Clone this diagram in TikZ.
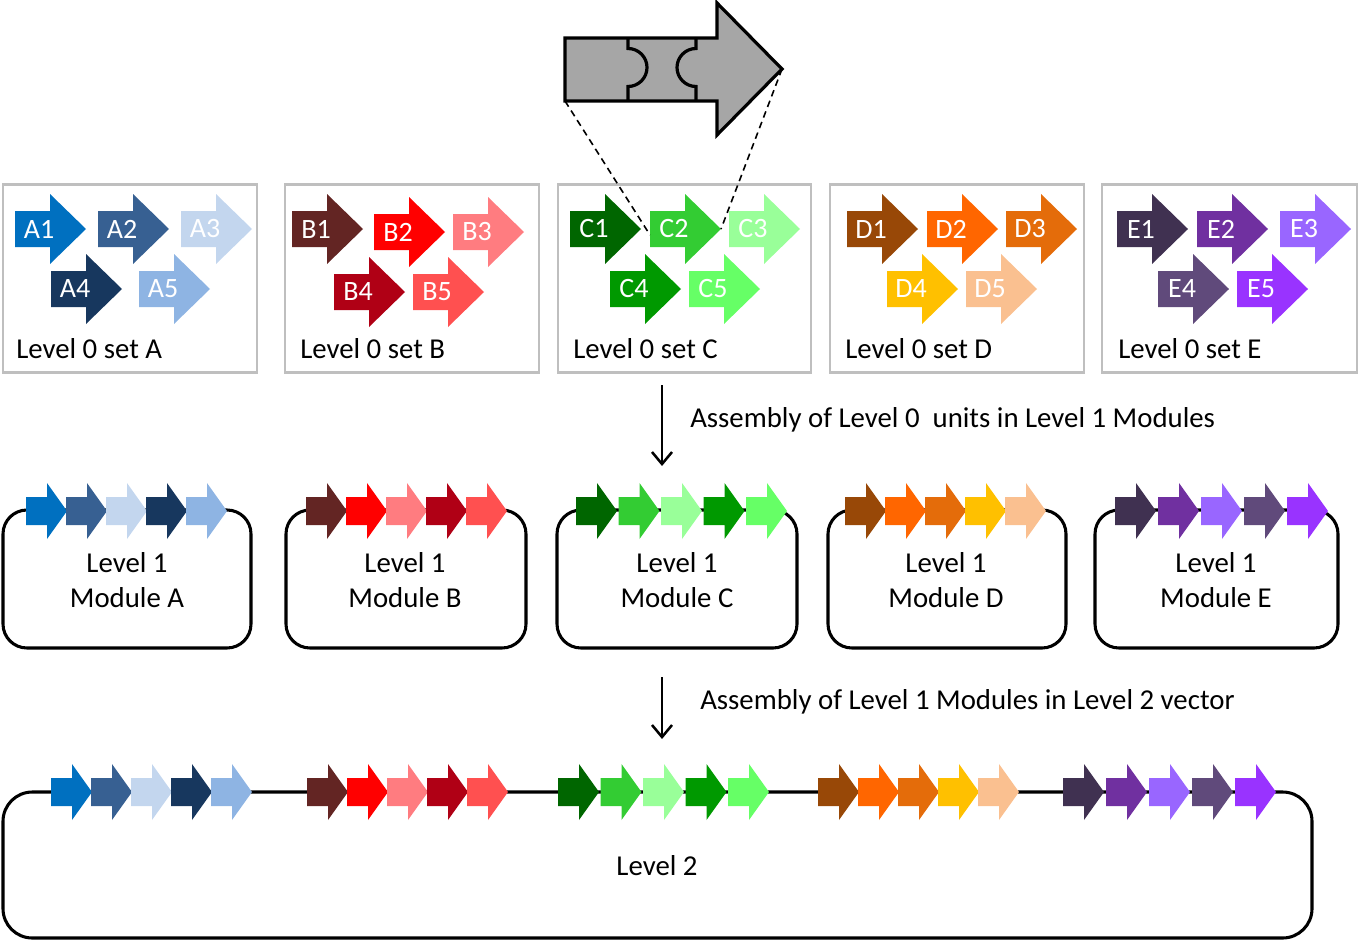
\documentclass[tikz,border=0pt]{standalone}
\usepackage{fontspec}
\setmainfont{Carlito}
\usetikzlibrary{arrows.meta}

% colours of the units
\definecolor{unitA1}{HTML}{0070C0}
\definecolor{unitA2}{HTML}{376092}
\definecolor{unitA3}{HTML}{C3D6EE}
\definecolor{unitA4}{HTML}{17375E}
\definecolor{unitA5}{HTML}{8EB4E3}
\definecolor{unitB1}{HTML}{632523}
\definecolor{unitB2}{HTML}{FF0000}
\definecolor{unitB3}{HTML}{FF7C80}
\definecolor{unitB4}{HTML}{B00015}
\definecolor{unitB5}{HTML}{FF5050}
\definecolor{unitC1}{HTML}{006600}
\definecolor{unitC2}{HTML}{33CC33}
\definecolor{unitC3}{HTML}{99FF99}
\definecolor{unitC4}{HTML}{009900}
\definecolor{unitC5}{HTML}{66FF66}
\definecolor{unitD1}{HTML}{984807}
\definecolor{unitD2}{HTML}{FF6600}
\definecolor{unitD3}{HTML}{E46C0A}
\definecolor{unitD4}{HTML}{FFC000}
\definecolor{unitD5}{HTML}{FAC090}
\definecolor{unitE1}{HTML}{403151}
\definecolor{unitE2}{HTML}{7030A0}
\definecolor{unitE3}{HTML}{9966FF}
\definecolor{unitE4}{HTML}{604A7B}
\definecolor{unitE5}{HTML}{9933FF}

% level 0 unit: colour, left x, tip y, label, name
\newcommand{\bigunit}[5]{%
  \fill[fill=#1] ({#2},{#3-18}) -- ++(35,0) -- ++(0,-17) -- ++(36,35) -- ++(-36,35) -- ++(0,-17) -- ++(-35,0) -- cycle;
  \coordinate (#5-tail) at ({#2},{#3+6});
  \coordinate (#5-tip) at ({#2+71},{#3});
  \node[unitlabel] (#5) at ({#2+24},{#3}) {#4};
}
% unit in a module or in the vector: colour, left x, tip y
\newcommand{\smallunit}[3]{%
  \fill[fill=#1] ({#2},{#3-14}) -- ++(21,0) -- ++(0,-14) -- ++(20,28) -- ++(-20,28) -- ++(0,-14) -- ++(-21,0) -- cycle;
}

\tikzset{
  unitlabel/.style={text=white, inner sep=0pt, font=\fontsize{21}{24}\selectfont},
  caption/.style={inner sep=0pt, font=\fontsize{21.6}{26}\selectfont},
  setbox/.style={draw=gray!50, line width=2.2pt},
  modbox/.style={draw=black, line width=2.3pt, rounded corners=18pt},
  partline/.style={draw=black, line width=2.4pt},
  zoomline/.style={black, line width=1.2pt, dash pattern=on 5pt off 3.5pt},
  flow/.style={-{Straight Barb[length=9pt,width=15pt]}, line width=1.9pt},
}

\begin{document}
\begin{tikzpicture}[x=0.75pt,y=-0.75pt]
\useasboundingbox (0,0) rectangle (1359,942);

%% the part, blown up
\draw[partline, fill=gray!70] (565,38) -- (717,38) -- (717,3) -- (782,69) -- (717,135) -- (717,101) -- (565,101) -- cycle;
\draw[partline] (628,38) -- (628,48.5) arc (-90:90:19) -- (628,101);
\draw[partline] (696,38) -- (696,48.5) arc (-90:-270:19) -- (696,101);
\coordinate (zoomL) at (565,101);
\coordinate (zoomR) at (782,69);

%% level 0 sets
\draw[setbox] (3,184.5) rectangle (257,372.5);
\draw[setbox] (285,184.5) rectangle (539,372.5);
\draw[setbox] (558,184.5) rectangle (811,372.5);
\draw[setbox] (830,184.5) rectangle (1084,372.5);
\draw[setbox] (1102,184.5) rectangle (1357,372.5);

\foreach \n/\x/\y in {A1/15/229, A2/98/229, A3/181/229, A4/51/289, A5/139/289,
                      B1/292/229, B2/374/232, B3/453/232, B4/334/292, B5/413/292,
                      C1/570/229, C2/650/229, C3/729/229, C4/610/289, C5/689/289,
                      D1/847/229, D2/927/229, D3/1006/229, D4/887/289, D5/966/289,
                      E1/1117/229, E2/1197/229, E3/1280/229, E4/1158/289, E5/1237/289}
  \bigunit{unit\n}{\x}{\y}{\n}{\n};

\node[caption, anchor=west] (setA) at (16,349) {Level 0 set A};
\node[caption, anchor=west] (setB) at (300,349) {Level 0 set B};
\node[caption, anchor=west] (setC) at (573,349) {Level 0 set C};
\node[caption, anchor=west] (setD) at (845,349) {Level 0 set D};
\node[caption, anchor=west] (setE) at (1118,349) {Level 0 set E};

\draw[zoomline] (zoomL) -- (C2-tail);
\draw[zoomline] (zoomR) -- (C2-tip);

%% level 0 -> level 1
\coordinate (go1) at (662,385);
\coordinate (in1) at (662,466);
\draw[flow] (go1) -- (in1);
\node[caption, anchor=west] (step1) at (690,420) {Assembly of Level 0\ \ units in Level 1 Modules};

%% level 1 modules
\foreach \m/\x/\w/\s/\p/\t in {A/3/251/26/40/127, B/286/526/306/40/405, C/557/797/576/42.5/677,
                                D/828/1066/845/40/946, E/1095/1338/1115/43/1216}{
  \draw[modbox] (\x,510) rectangle (\w,648);
  \foreach \k in {1,...,5}
    \smallunit{unit\m\k}{\s+\p*(\k-1)}{511};
  \node[caption, align=center] (mod\m) at (\t,580) {Level 1\\Module \m};
}

%% level 1 -> level 2
\coordinate (go2) at (662,677);
\coordinate (in2) at (662,739);
\draw[flow] (go2) -- (in2);
\node[caption, anchor=west] (step2) at (700,702) {Assembly of Level 1 Modules in Level 2 vector};

%% level 2 vector
\draw[modbox, rounded corners=22pt] (3,792) rectangle (1312,938);
\foreach \m/\s/\p in {A/51/40, B/307/40, C/558/42.5, D/818/40, E/1063/43}
  \foreach \k in {1,...,5}
    \smallunit{unit\m\k}{\s+\p*(\k-1)}{792};
\node[caption] (lvl2) at (657,866) {Level 2};

\end{tikzpicture}
\end{document}
